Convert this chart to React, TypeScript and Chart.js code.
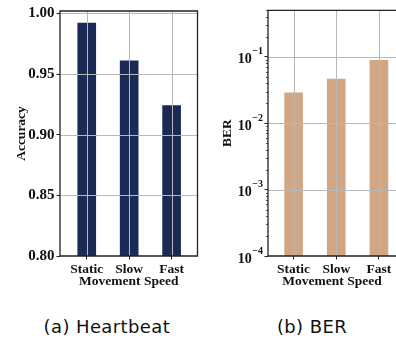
import React, { useEffect, useRef } from 'react';
import { Chart, registerables } from 'chart.js';

Chart.register(...registerables);

const categories = ['Static', 'Slow', 'Fast'];
const accuracyValues = [0.992, 0.961, 0.924];
const berValues = [0.0286, 0.0461, 0.0884];
const accuracyTicks = [0.8, 0.85, 0.9, 0.95, 1.0];
const berExponents = [-4, -3, -2, -1];
const captions = ['(a) Heartbeat', '(b) BER'];

const SERIF = '"Liberation Serif", "Times New Roman", serif';
const GRID = '#b8b8b8';
const AXIS = '#222222';

const gridOnTop = (drawRight: boolean) => ({
  id: 'gridOnTop',
  afterDatasetsDraw(chart: any) {
    const { ctx, chartArea: a, scales } = chart;
    ctx.save();
    ctx.beginPath();
    ctx.rect(a.left, a.top, a.right - a.left, a.bottom - a.top);
    ctx.clip();
    ctx.strokeStyle = GRID;
    ctx.lineWidth = 1;
    for (const t of scales.x.ticks) {
      const x = Math.round(scales.x.getPixelForValue(t.value)) + 0.5;
      ctx.beginPath();
      ctx.moveTo(x, a.top);
      ctx.lineTo(x, a.bottom);
      ctx.stroke();
    }
    for (const t of scales.y.ticks) {
      const y = Math.round(scales.y.getPixelForValue(t.value)) + 0.5;
      ctx.beginPath();
      ctx.moveTo(a.left, y);
      ctx.lineTo(a.right, y);
      ctx.stroke();
    }
    ctx.restore();
    ctx.save();
    ctx.strokeStyle = AXIS;
    ctx.lineWidth = 1.3;
    ctx.beginPath();
    ctx.moveTo(a.left, a.bottom);
    ctx.lineTo(a.left, a.top);
    ctx.lineTo(a.right, a.top);
    if (drawRight) {
      ctx.lineTo(a.right, a.bottom);
    } else {
      ctx.moveTo(a.right, a.bottom);
    }
    ctx.lineTo(a.left, a.bottom);
    ctx.stroke();
    ctx.restore();
  },
});

const logLabels = {
  id: 'logLabels',
  afterDraw(chart: any) {
    const { ctx, chartArea: a, scales } = chart;
    const y = scales.y;
    ctx.save();
    ctx.strokeStyle = AXIS;
    ctx.lineWidth = 0.8;
    for (let e = -4; e <= 0; e++) {
      for (let m = 2; m <= 9; m++) {
        const v = m * Math.pow(10, e);
        if (v < y.min || v > y.max) continue;
        const py = Math.round(y.getPixelForValue(v)) + 0.5;
        ctx.beginPath();
        ctx.moveTo(a.left - 2, py);
        ctx.lineTo(a.left, py);
        ctx.stroke();
      }
    }
    ctx.fillStyle = '#111';
    ctx.textBaseline = 'alphabetic';
    const bigFont = 'bold 14px ' + SERIF;
    const supFont = 'bold 10px ' + SERIF;
    for (const e of berExponents) {
      const py = y.getPixelForValue(Math.pow(10, e));
      const sup = '\u2212' + Math.abs(e);
      ctx.font = supFont;
      const supW = ctx.measureText(sup).width;
      const xEnd = a.left - 5;
      ctx.textAlign = 'left';
      ctx.fillText(sup, xEnd - supW, py - 2.5);
      ctx.font = bigFont;
      ctx.textAlign = 'right';
      ctx.fillText('10', xEnd - supW - 0.5, py + 6.5);
    }
    ctx.restore();
  },
};

function xScale(min: number, max: number, titlePadBottom: number) {
  return {
    type: 'linear' as const,
    min,
    max,
    offset: false,
    afterBuildTicks: (s: any) => {
      s.ticks = categories.map((_, i) => ({ value: i }));
    },
    afterFit: (s: any) => {
      s.height = 44;
    },
    grid: { offset: false, drawOnChartArea: false, drawTicks: true, tickLength: 3.5, tickColor: AXIS },
    border: { display: false },
    ticks: {
      autoSkip: false,
      maxRotation: 0,
      padding: 2,
      color: '#111',
      font: { family: SERIF, size: 13.5, weight: 'bold' as const },
      callback: (v: any) => categories[Math.round(v)] ?? '',
    },
    title: {
      display: true,
      text: 'Movement Speed',
      color: '#111',
      font: { family: SERIF, size: 13.5, weight: 'bold' as const },
      padding: { top: 0, bottom: titlePadBottom },
    },
  };
}

function AccuracyChart() {
  const ref = useRef<HTMLCanvasElement | null>(null);
  useEffect(() => {
    const chart = new Chart(ref.current as HTMLCanvasElement, {
      type: 'bar',
      data: {
        datasets: [
          {
            data: accuracyValues.map((v, i) => ({ x: i, y: v })),
            backgroundColor: '#1b2a55',
            barThickness: 18,
          },
        ],
      },
      options: {
        responsive: false,
        animation: false,
        devicePixelRatio: 1,
        layout: { padding: { top: 7, right: 2.5, left: 0, bottom: 0 } },
        plugins: { legend: { display: false }, tooltip: { enabled: false } },
        scales: {
          x: xScale(-0.63, 2.61, 10.5),
          y: {
            type: 'linear',
            min: 0.8,
            max: 1.002,
            afterBuildTicks: (s: any) => {
              s.ticks = accuracyTicks.map((v) => ({ value: v }));
            },
            afterFit: (s: any) => {
              s.width = 60;
            },
            grid: { drawOnChartArea: false, drawTicks: true, tickLength: 3.5, tickColor: AXIS },
            border: { display: false },
            ticks: {
              autoSkip: false,
              padding: 2,
              color: '#111',
              font: { family: SERIF, size: 15, weight: 'bold' },
              callback: (v: any) => Number(v).toFixed(2),
            },
            title: {
              display: true,
              text: 'Accuracy',
              color: '#111',
              font: { family: SERIF, size: 13.5, weight: 'bold' },
              padding: { top: 13.9, bottom: 0 },
            },
          },
        },
      } as any,
      plugins: [gridOnTop(true)],
    });
    return () => chart.destroy();
  }, []);
  return (
    <canvas
      ref={ref}
      width={200}
      height={300}
      style={{ position: 'absolute', left: 0, top: 0, width: 200, height: 300 }}
    />
  );
}

function BerChart() {
  const ref = useRef<HTMLCanvasElement | null>(null);
  useEffect(() => {
    const chart = new Chart(ref.current as HTMLCanvasElement, {
      type: 'bar',
      data: {
        datasets: [
          {
            data: berValues.map((v, i) => ({ x: i, y: v })),
            backgroundColor: '#d1a682',
            barThickness: 18,
          },
        ],
      },
      options: {
        responsive: false,
        animation: false,
        devicePixelRatio: 1,
        layout: { padding: { top: 7, right: 0, left: 0, bottom: 0 } },
        plugins: { legend: { display: false }, tooltip: { enabled: false } },
        scales: {
          x: xScale(-0.6, 2.4, 10.5),
          y: {
            type: 'logarithmic',
            min: 1e-4,
            max: 0.5,
            afterBuildTicks: (s: any) => {
              s.ticks = berExponents.map((e) => ({ value: Math.pow(10, e) }));
            },
            afterFit: (s: any) => {
              s.width = 68;
            },
            grid: { drawOnChartArea: false, drawTicks: true, tickLength: 3.5, tickColor: AXIS },
            border: { display: false },
            ticks: {
              autoSkip: false,
              padding: 2,
              color: 'rgba(0,0,0,0)',
              font: { family: SERIF, size: 14, weight: 'bold' },
              callback: () => '',
            },
            title: {
              display: true,
              text: 'BER',
              color: '#111',
              font: { family: SERIF, size: 13.5, weight: 'bold' },
              padding: { top: 19.2, bottom: 0 },
            },
          },
        },
      } as any,
      plugins: [gridOnTop(false), logLabels],
    });
    return () => chart.destroy();
  }, []);
  return (
    <canvas
      ref={ref}
      width={196}
      height={300}
      style={{ position: 'absolute', left: 200, top: 0, width: 196, height: 300 }}
    />
  );
}

const captionStyle: React.CSSProperties = {
  position: 'absolute',
  top: 318,
  width: 200,
  textAlign: 'center',
  fontFamily: '"DejaVu Sans", sans-serif',
  fontSize: 18,
  lineHeight: '18px',
  letterSpacing: '0.4px',
  color: '#111',
  whiteSpace: 'nowrap',
};

export default function App() {
  return (
    <div
      style={{
        position: 'fixed',
        left: 0,
        top: 0,
        width: 396,
        height: 341,
        overflow: 'hidden',
        background: '#ffffff',
      }}
    >
      <AccuracyChart />
      <BerChart />
      <div style={{ ...captionStyle, left: 106.9 - 100 }}>{captions[0]}</div>
      <div style={{ ...captionStyle, left: 312 - 100 }}>{captions[1]}</div>
    </div>
  );
}
